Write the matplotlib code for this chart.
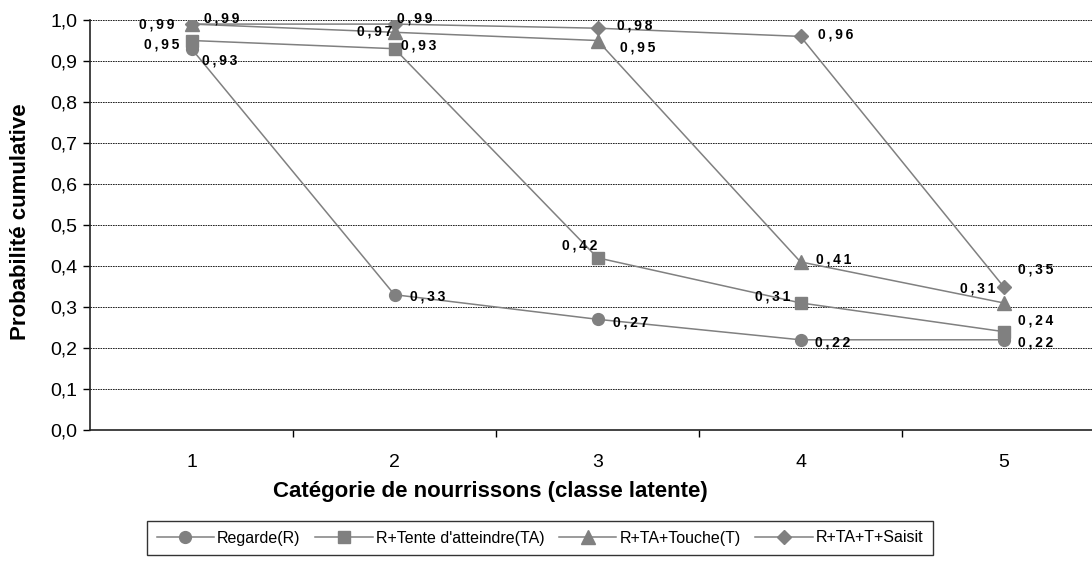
import matplotlib
matplotlib.use("Agg")
import matplotlib.pyplot as plt

plt.rcParams['font.family'] = ['Liberation Sans', 'DejaVu Sans']

# données
categories = [1, 2, 3, 4, 5]
series_names = ["Regarde(R)", "R+Tente d'atteindre(TA)", "R+TA+Touche(T)", "R+TA+T+Saisit"]
regarde = [0.93, 0.33, 0.27, 0.22, 0.22]
tente = [0.95, 0.93, 0.42, 0.31, 0.24]
touche = [0.99, 0.97, 0.95, 0.41, 0.31]
saisit = [0.99, 0.99, 0.98, 0.96, 0.35]
y_ticks = [0.0, 0.1, 0.2, 0.3, 0.4, 0.5, 0.6, 0.7, 0.8, 0.9, 1.0]

all_series = [regarde, tente, touche, saisit]
markers = ['o', 's', '^', 'D']
msizes = [8.5, 8, 9.5, 7]

# décalages des étiquettes (pixels), une liste par série
offsets = [
    [(28, -12), (33, -2), (33, -3), (32, -3), (32, -3)],
    [(-30, -4), (24, 3), (-18, 12), (-28, 6), (32, 11)],
    [(-35, 0), (-20, 1), (40, -7), (33, 2), (-26, 14)],
    [(30, 6), (20, 6), (37, 3), (35, 2), (32, 17)],
]

def fmt(v):
    return '\u2009'.join(f"{v:.2f}".replace('.', ','))

fig = plt.figure(figsize=(10.92, 5.71), dpi=100)
ax = fig.add_axes([90 / 1092, 141 / 571, 1015 / 1092, 410 / 571])

for vals, name, m, ms, offs in zip(all_series, series_names, markers, msizes, offsets):
    ax.plot(categories, vals, color='#808080', lw=1.1, marker=m, markersize=ms,
            markerfacecolor='#808080', markeredgecolor='#808080', label=name)
    for x, v, (dx, dy) in zip(categories, vals, offs):
        ax.annotate(fmt(v), (x, v), xytext=(dx, dy), textcoords='offset pixels',
                    ha='center', va='center', fontsize=10, fontweight='bold', color='black')

ax.set_xlim(0.5, 5.5)
ax.set_ylim(0, 1.0)
ax.set_yticks(y_ticks)
ax.set_yticklabels([f"{t:.1f}".replace('.', ',') for t in y_ticks], fontsize=14)
ax.set_xticks(categories)
ax.set_xticklabels([str(c) for c in categories], fontsize=14)
ax.set_xticks([1.5, 2.5, 3.5, 4.5], minor=True)
ax.tick_params(axis='x', which='major', length=0, pad=17)
ax.tick_params(axis='x', which='minor', length=5, direction='out', width=1)
ax.tick_params(axis='y', length=5, direction='out', width=1, pad=4)
ax.yaxis.grid(True, color='black', linestyle=(0, (2, 1)), linewidth=0.6)
ax.set_axisbelow(True)
for s in ['top', 'right']:
    ax.spines[s].set_visible(False)
for s in ['left', 'bottom']:
    ax.spines[s].set_linewidth(1.2)
    ax.spines[s].set_color('#222222')

fig.text(21 / 1092, 1 - 222 / 571, 'Probabilité cumulative', rotation=90,
         fontsize=16, fontweight='bold', ha='center', va='center')
fig.text(490 / 1092, 1 - 492 / 571, 'Catégorie de nourrissons (classe latente)',
         fontsize=16, fontweight='bold', ha='center', va='center')

leg = fig.legend(loc='center', bbox_to_anchor=(540 / 1092, 1 - 538 / 571), ncol=4,
                 fontsize=11.5, frameon=True, fancybox=False, edgecolor='black',
                 handlelength=3.6, handletextpad=0.2, columnspacing=0.9,
                 borderpad=0.6)
leg.get_frame().set_linewidth(1.0)

fig.savefig('out.png', dpi=100)
